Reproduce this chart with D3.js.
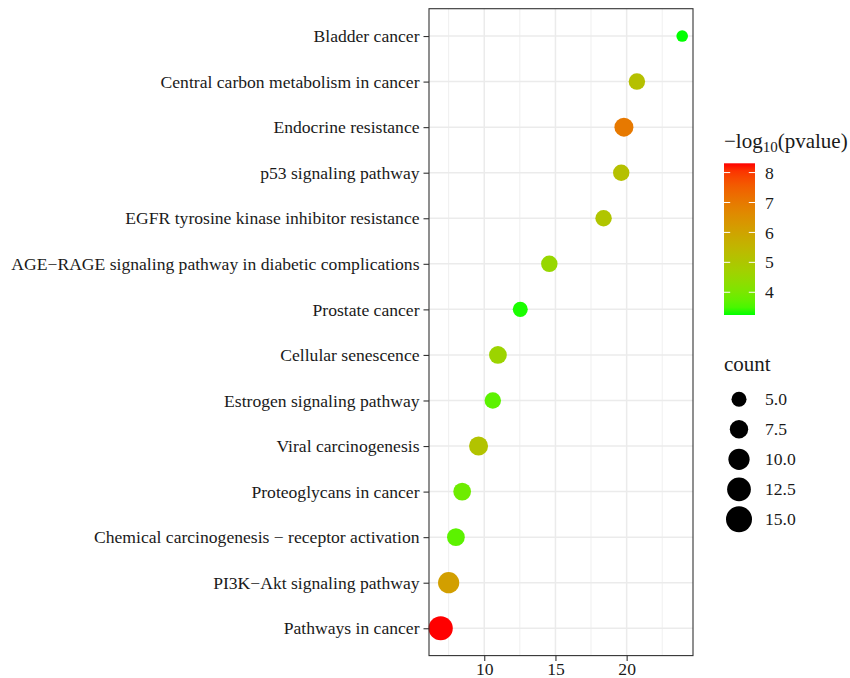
<!DOCTYPE html>
<html>
<head>
<meta charset="utf-8">
<script src="https://cdn.jsdelivr.net/npm/d3@7"></script>
<style>
  html, body { margin: 0; padding: 0; background: #fff; }
  svg { display: block; }
  svg text { font-family: "Liberation Serif", "DejaVu Serif", serif !important; }
</style>
</head>
<body>
<svg id="chart" width="850" height="678"></svg>
<script>
// ---- data ----
const categories = [
  "Bladder cancer",
  "Central carbon metabolism in cancer",
  "Endocrine resistance",
  "p53 signaling pathway",
  "EGFR tyrosine kinase inhibitor resistance",
  "AGE\u2212RAGE signaling pathway in diabetic complications",
  "Prostate cancer",
  "Cellular senescence",
  "Estrogen signaling pathway",
  "Viral carcinogenesis",
  "Proteoglycans in cancer",
  "Chemical carcinogenesis \u2212 receptor activation",
  "PI3K\u2212Akt signaling pathway",
  "Pathways in cancer"
];
const xValues = [23.9, 20.72, 19.81, 19.62, 18.38, 14.57, 12.53, 10.96, 10.6, 9.6, 8.45, 8.01, 7.5, 6.94];
const counts = [3, 6, 8, 6, 6, 6, 5, 7, 6, 8, 7, 7, 10, 13];
const logP = [3.24, 5.2, 7.0, 5.2, 5.05, 4.5, 3.28, 4.6, 3.65, 5.1, 3.85, 3.65, 6.1, 8.31];
const xMajorTicks = [10, 15, 20];
const xMinorTicks = [7.5, 12.5, 17.5, 22.5];
const colorTicks = [4, 5, 6, 7, 8];
const sizeTicks = [5, 7.5, 10, 12.5, 15];
const sizeTickLabels = ["5.0", "7.5", "10.0", "12.5", "15.0"];

// ---- layout ----
const FONT = "Liberation Serif";
const panel = { left: 429, right: 693, top: 8.7, bottom: 655.6 };
const svg = d3.select("#chart");

const x = d3.scaleLinear().domain([6.12, 24.66]).range([panel.left, panel.right]);
const y = d3.scalePoint().domain(categories).range([panel.top, panel.bottom]).padding(0.6);
const pMin = d3.min(logP), pMax = d3.max(logP);
const color = d3.scaleLinear().domain([pMin, pMax]).range(["#00ff00", "#ff0000"]).interpolate(d3.interpolateLab);
const rScale = d3.scaleSqrt().domain([0, 15]).range([0, 13]);

const textColor = "#1a1a1a";
const fs = 17.6;

// panel background
svg.append("rect").attr("x", panel.left).attr("y", panel.top)
  .attr("width", panel.right - panel.left).attr("height", panel.bottom - panel.top)
  .attr("fill", "#fff");

// minor grid
svg.append("g").selectAll("line").data(xMinorTicks).join("line")
  .attr("x1", d => x(d)).attr("x2", d => x(d))
  .attr("y1", panel.top).attr("y2", panel.bottom)
  .attr("stroke", "#ebebeb").attr("stroke-width", 0.8);
// major grid vertical
svg.append("g").selectAll("line").data(xMajorTicks).join("line")
  .attr("x1", d => x(d)).attr("x2", d => x(d))
  .attr("y1", panel.top).attr("y2", panel.bottom)
  .attr("stroke", "#ebebeb").attr("stroke-width", 1.5);
// major grid horizontal
svg.append("g").selectAll("line").data(categories).join("line")
  .attr("x1", panel.left).attr("x2", panel.right)
  .attr("y1", d => y(d)).attr("y2", d => y(d))
  .attr("stroke", "#ebebeb").attr("stroke-width", 1.5);

// points
const rows = categories.map((c, i) => ({ cat: c, x: xValues[i], count: counts[i], p: logP[i] }));
svg.append("g").selectAll("circle").data(rows).join("circle")
  .attr("cx", d => x(d.x)).attr("cy", d => y(d.cat))
  .attr("r", d => rScale(d.count))
  .attr("fill", d => color(d.p));

// panel border
svg.append("rect").attr("x", panel.left).attr("y", panel.top)
  .attr("width", panel.right - panel.left).attr("height", panel.bottom - panel.top)
  .attr("fill", "none").attr("stroke", "#333333").attr("stroke-width", 1.1);

// y axis
const yAxis = d3.axisLeft(y).tickSize(5.5).tickPadding(4);
const gy = svg.append("g").attr("transform", `translate(${panel.left},0)`).call(yAxis)
  .attr("font-family", FONT).attr("font-size", fs);
gy.select(".domain").remove();
gy.selectAll(".tick line").attr("stroke", "#333333").attr("stroke-width", 1.1);
gy.selectAll(".tick text").attr("fill", textColor).attr("font-size", fs)
  .attr("font-family", FONT);

// x axis
const xAxis = d3.axisBottom(x).tickValues(xMajorTicks).tickSize(5.5).tickPadding(1.5).tickFormat(d3.format("d"));
const gx = svg.append("g").attr("transform", `translate(0,${panel.bottom})`).call(xAxis)
  .attr("font-family", FONT).attr("font-size", fs);
gx.select(".domain").remove();
gx.selectAll(".tick line").attr("stroke", "#333333").attr("stroke-width", 1.1);
gx.selectAll(".tick text").attr("fill", textColor).attr("font-size", fs)
  .attr("font-family", FONT);

// ---- colour legend ----
const cb = { x: 724, y: 163.3, w: 31, h: 151.7 };
const cbScale = d3.scaleLinear().domain([pMin, pMax]).range([cb.y + cb.h, cb.y]);

const title1 = svg.append("text").attr("x", 724).attr("y", 148)
  .attr("font-family", FONT).attr("font-size", 21).attr("fill", textColor);
title1.append("tspan").text("\u2212log");
title1.append("tspan").attr("font-size", 15).attr("dy", 4).text("10");
title1.append("tspan").attr("dy", -4).text("(pvalue)");

const defs = svg.append("defs");
const grad = defs.append("linearGradient").attr("id", "cbgrad")
  .attr("x1", 0).attr("y1", 1).attr("x2", 0).attr("y2", 0);
d3.range(0, 21).forEach(i => {
  const t = i / 20;
  grad.append("stop").attr("offset", t).attr("stop-color", color(pMin + t * (pMax - pMin)));
});
svg.append("rect").attr("x", cb.x).attr("y", cb.y).attr("width", cb.w).attr("height", cb.h)
  .attr("fill", "url(#cbgrad)");
const cbt = svg.append("g");
colorTicks.forEach(v => {
  const yy = cbScale(v);
  cbt.append("line").attr("x1", cb.x).attr("x2", cb.x + cb.w / 5).attr("y1", yy).attr("y2", yy)
    .attr("stroke", "#fff").attr("stroke-width", 1);
  cbt.append("line").attr("x1", cb.x + cb.w - cb.w / 5).attr("x2", cb.x + cb.w).attr("y1", yy).attr("y2", yy)
    .attr("stroke", "#fff").attr("stroke-width", 1);
  cbt.append("text").attr("x", 765).attr("y", yy).attr("dy", "0.35em")
    .attr("font-family", FONT).attr("font-size", fs).attr("fill", textColor).text(v);
});

// ---- size legend ----
svg.append("text").attr("x", 724).attr("y", 370.7).attr("font-size", 21)
  .attr("font-family", FONT).attr("fill", textColor).text("count");
const sizeY = d3.scalePoint().domain(sizeTicks).range([399.3, 519.3]);
const sl = svg.append("g");
sl.selectAll("circle").data(sizeTicks).join("circle")
  .attr("cx", 739).attr("cy", d => sizeY(d)).attr("r", d => rScale(d)).attr("fill", "#000");
sl.selectAll("text").data(sizeTicks).join("text")
  .attr("x", 765).attr("y", d => sizeY(d)).attr("dy", "0.35em")
  .attr("font-family", FONT).attr("font-size", fs).attr("fill", textColor)
  .text((d, i) => sizeTickLabels[i]);
</script>
</body>
</html>
